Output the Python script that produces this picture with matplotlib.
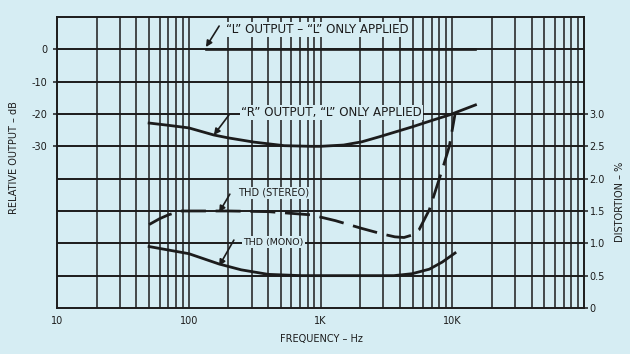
import matplotlib
matplotlib.use("Agg")
import matplotlib.pyplot as plt

# "R" output with only "L" applied (dB)
r_freq = [50, 70, 100, 155, 200, 313, 530, 850, 1000, 1500, 2060, 2770, 4950, 7000, 9500, 15000]
r_db = [-22.8, -23.5, -24.3, -26.5, -27.4, -28.7, -29.8, -30.0, -30.0, -29.6, -28.6, -27.1, -24.0, -22.0, -20.3, -17.2]

# "L" output with only "L" applied (dB)
l_freq = [135, 15000]
l_db = [0, 0]

# THD stereo (%)
st_freq = [50, 60, 70, 87, 100, 200, 400, 850, 1300, 2060, 3000, 3670, 4300, 5000, 5600, 6700, 8400, 9500, 10500]
st_thd = [1.29, 1.38, 1.44, 1.5, 1.5, 1.5, 1.49, 1.44, 1.35, 1.23, 1.14, 1.1, 1.09, 1.13, 1.21, 1.52, 2.14, 2.5, 3.0]

# THD mono (%)
mo_freq = [50, 100, 170, 250, 400, 716, 1000, 2000, 3600, 4950, 6700, 8400, 10500]
mo_thd = [0.95, 0.84, 0.68, 0.59, 0.52, 0.5, 0.5, 0.5, 0.5, 0.53, 0.6, 0.71, 0.85]

db_ticks = [0, -10, -20, -30]
db_labels = ["0", "-10", "-20", "-30"]
pct_ticks = [0, 0.5, 1.0, 1.5, 2.0, 2.5, 3.0]
pct_labels = ["0", "0.5", "1.0", "1.5", "2.0", "2.5", "3.0"]
x_ticks = [10, 100, 1000, 10000]
x_labels = ["10", "100", "1K", "10K"]

bg = "#d6edf3"
ink = "#1c1c1c"
plt.rcParams["font.family"] = ["DejaVu Sans"]

fig = plt.figure(figsize=(6.3, 3.54), dpi=100, facecolor=bg)
ax = fig.add_axes([0.0905, 0.13, 0.8365, 0.822], facecolor=bg)
ax.set_xscale("log")
ax.set_xlim(10, 100000)
ax.set_ylim(-80, 10)

# grid: decades + minor lines, 10 dB rows
for dec in [10, 100, 1000, 10000]:
    for m in range(1, 10):
        f = dec * m
        if f > 10 and f < 100000:
            ax.axvline(f, color=ink, lw=1.1, zorder=1)
for y in range(-70, 10, 10):
    ax.axhline(y, color=ink, lw=1.4, zorder=1)
for s in ax.spines.values():
    s.set_color(ink)
    s.set_linewidth(1.4)

ax.set_xticks(x_ticks)
ax.set_xticklabels(x_labels)
ax.xaxis.set_minor_locator(matplotlib.ticker.NullLocator())
ax.set_yticks(db_ticks)
ax.set_yticklabels(db_labels)
ax.tick_params(axis="both", colors=ink, labelsize=7, length=3, width=1.1, pad=4)
ax.tick_params(axis="x", length=0, pad=6)

ax2 = ax.twinx()
ax2.set_ylim(0, 4.5)
ax2.set_yticks(pct_ticks)
ax2.set_yticklabels(pct_labels)
ax2.tick_params(axis="y", colors=ink, labelsize=7, length=3, width=1.1, pad=1)
for s in ax2.spines.values():
    s.set_visible(False)

ax.plot(l_freq, l_db, color=ink, lw=1.9, zorder=3)
ax.plot(r_freq, r_db, color=ink, lw=2.0, zorder=3)
ax2.plot(st_freq, st_thd, color=ink, lw=2.0, ls=(0, (9, 3.5)), zorder=3)
ax2.plot(mo_freq, mo_thd, color=ink, lw=2.0, zorder=3)

arrow = dict(arrowstyle="-|>", color=ink, lw=1.2, mutation_scale=9, shrinkA=0, shrinkB=0)
box = dict(facecolor=bg, edgecolor="none", pad=0.8)

ax.text(192, 6.2, "“L” OUTPUT – “L” ONLY APPLIED", fontsize=8.6, color=ink,
        va="center", ha="left", zorder=4, bbox=box)
ax.annotate("", xy=(135, 0.7), xytext=(170, 7.2), arrowprops=arrow)
ax.text(248, -19.6, "“R” OUTPUT, “L” ONLY APPLIED", fontsize=8.6, color=ink,
        va="center", ha="left", zorder=4, bbox=box)
ax.annotate("", xy=(155, -26.5), xytext=(202, -20.3), arrowprops=arrow)
ax2.text(238, 1.78, "THD (STEREO)", fontsize=7.1, color=ink,
         va="center", ha="left", zorder=4, bbox=box)
ax2.annotate("", xy=(170, 1.48), xytext=(205, 1.76), arrowprops=arrow)
ax2.text(260, 1.02, "THD (MONO)", fontsize=6.8, color=ink,
         va="center", ha="left", zorder=4, bbox=box)
ax2.annotate("", xy=(170, 0.65), xytext=(220, 1.05), arrowprops=arrow)

fig.text(0.023, 0.556, "RELATIVE OUTPUT – dB", rotation=90, fontsize=7, color=ink,
         ha="center", va="center")
fig.text(0.984, 0.43, "DISTORTION – %", rotation=90, fontsize=7, color=ink,
         ha="center", va="center")
fig.text(0.511, 0.042, "FREQUENCY – Hz", fontsize=7, color=ink, ha="center", va="center")

fig.savefig("out.png", dpi=100, facecolor=bg)
